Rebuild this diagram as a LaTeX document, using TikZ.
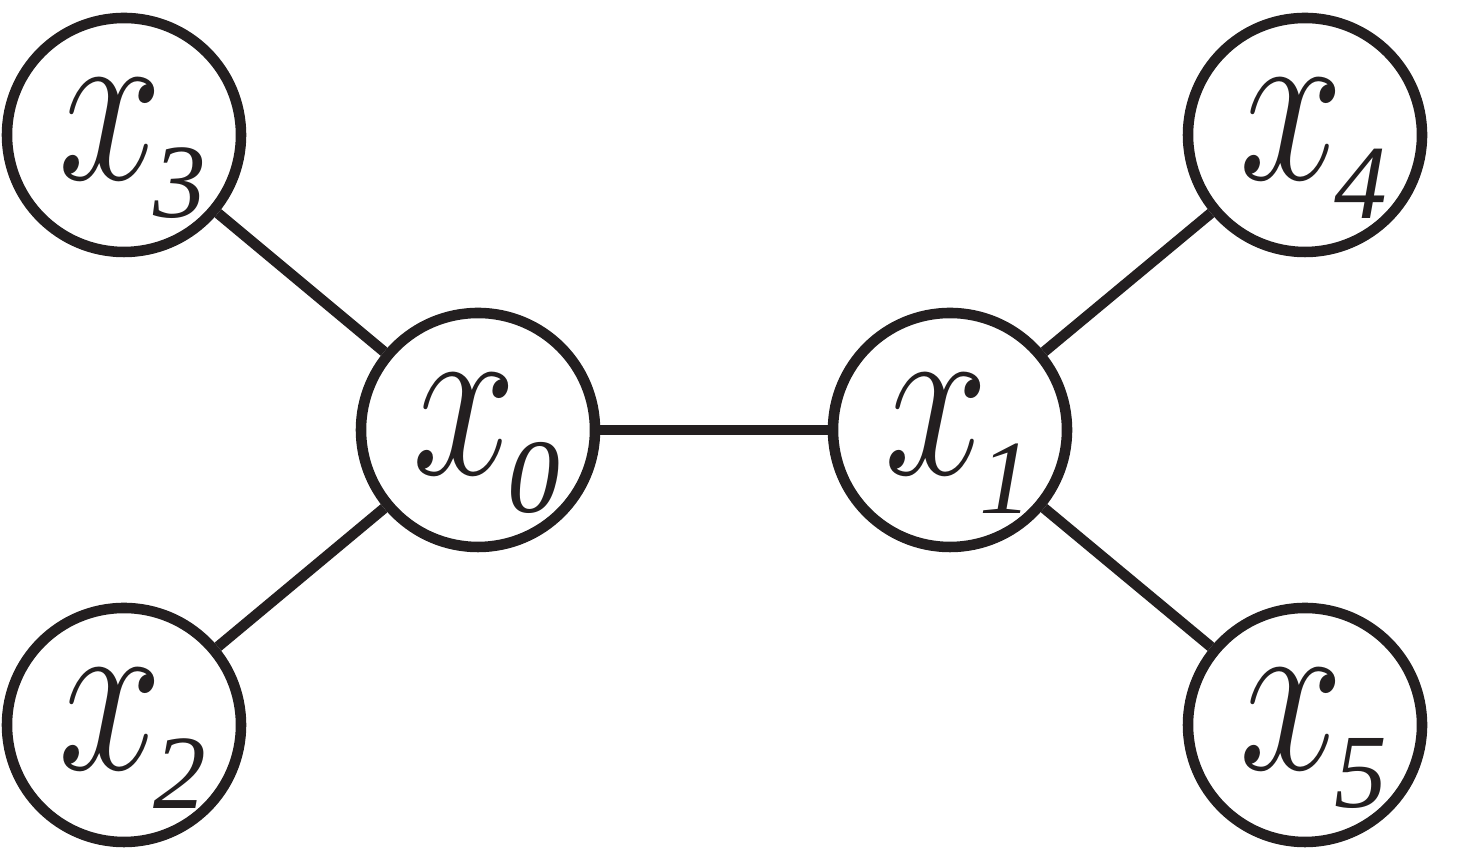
\RequirePackage{fix-cm}
\documentclass[tikz,border=0pt]{standalone}
\usepackage{fontspec}
\setmainfont{Liberation Serif}
\usepackage{graphicx}
\usepackage{xcolor}
\usepackage{tikz}
\usetikzlibrary{positioning}

\definecolor{inkdark}{RGB}{35,31,32}
% variable label: italic x with lowered italic index
\newcommand{\varx}[1]{{\fontsize{56}{60}\selectfont\scalebox{0.95}[1.18]{$x$}\kern-2.5pt\raisebox{-11pt}{\fontsize{30}{32}\selectfont\itshape #1}}}

\begin{document}
\begin{tikzpicture}[line width=3pt, draw=inkdark, text=inkdark,
    vnode/.style={circle, draw, fill=white, inner sep=0pt, minimum size=2.34cm},
    vlabel/.style={xshift=0.08cm, yshift=-0.14cm, inner sep=0pt}]
    \useasboundingbox (0,0) rectangle (14.69,8.61);

    % Left group.
    \node[vnode] (x0) at (4.78,4.31) {};
    \node[vnode] (x3) at (1.24,7.26) {};
    \node[vnode] (x2) at (1.24,1.36) {};

    % Right group.
    \node[vnode] (x1) at (9.50,4.31) {};
    \node[vnode] (x4) at (13.05,7.26) {};
    \node[vnode] (x5) at (13.05,1.36) {};

    % Labels.
    \node[vlabel] (l0) at (x0) {\varx{0}};
    \node[vlabel] (l1) at (x1) {\varx{1}};
    \node[vlabel] (l2) at (x2) {\varx{2}};
    \node[vlabel] (l3) at (x3) {\varx{3}};
    \node[vlabel] (l4) at (x4) {\varx{4}};
    \node[vlabel] (l5) at (x5) {\varx{5}};

    % Edges.
    \draw (x0) -- (x3);
    \draw (x0) -- (x2);
    \draw (x0) -- (x1);
    \draw (x1) -- (x4);
    \draw (x1) -- (x5);
\end{tikzpicture}
\end{document}
